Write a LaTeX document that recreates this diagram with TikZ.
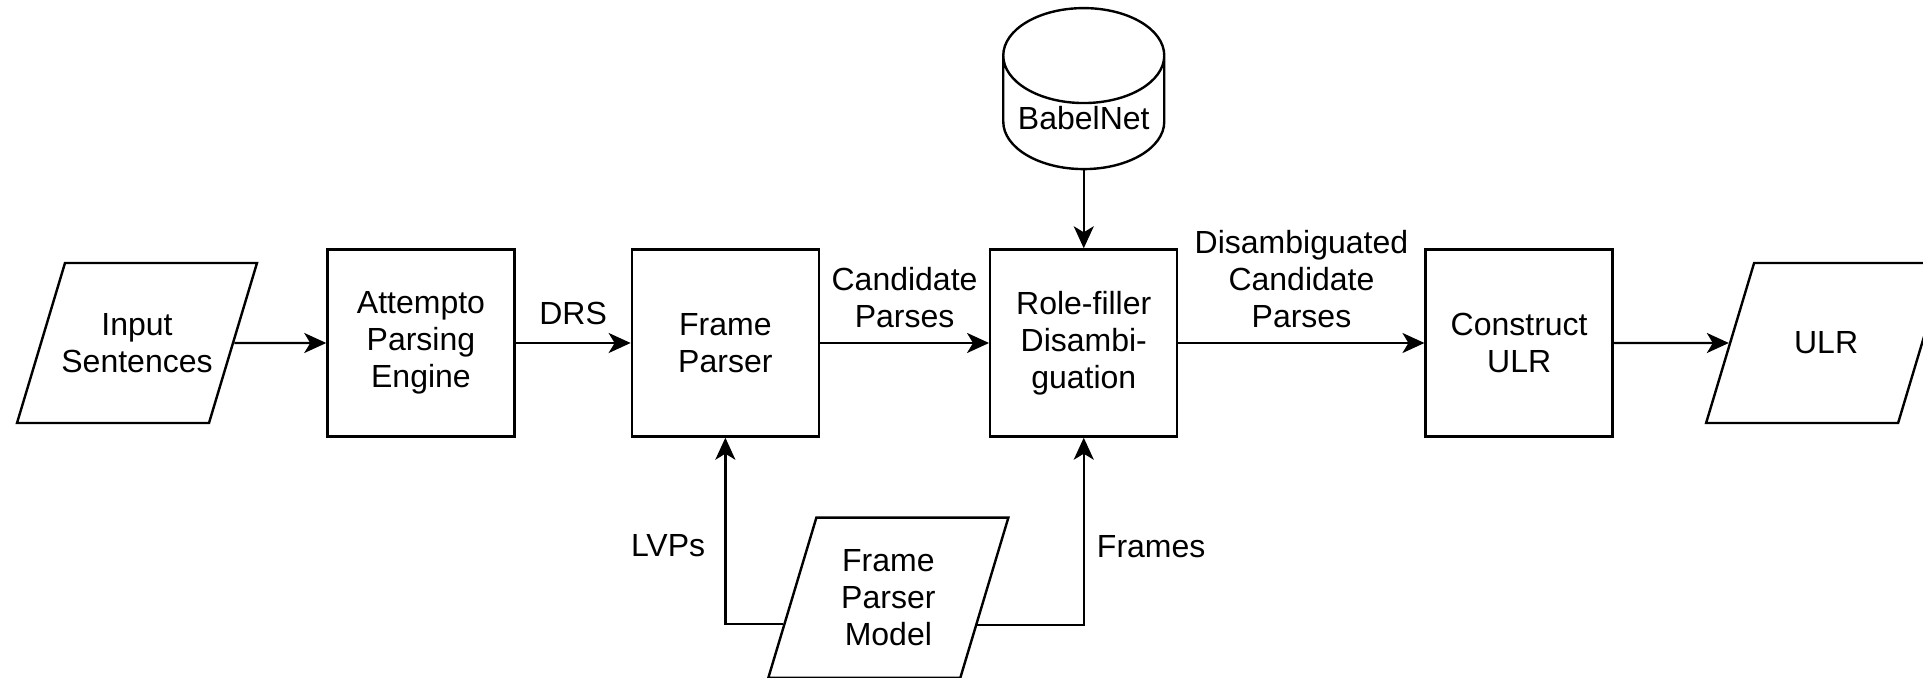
\documentclass[tikz,border=0pt]{standalone}
\usepackage{fontspec}
\setmainfont{Liberation Sans}
\usetikzlibrary{shapes.geometric,positioning,arrows.meta}

\newcommand{\pbox}[1]{\parbox[c][76pt][c]{80pt}{\centering #1}}

\begin{document}
\begin{tikzpicture}[
font=\fontsize{16}{18.5}\selectfont,
box/.style={
  draw,
  line width=1.2pt,
  align=center,
  minimum width=93.5pt,
  minimum height=93.5pt,
  inner sep=2pt
},
para/.style={
  draw,
  trapezium,
  line width=1.2pt,
  trapezium left angle=73.3,
  trapezium right angle=106.7,
  inner xsep=-4pt,
  inner ysep=2pt
},
db/.style={
  draw,
  cylinder,
  line width=1.2pt,
  shape border rotate=90,
  aspect=0.7,
  inner sep=1pt,
  minimum width=80.5pt,
  minimum height=80.5pt
},
arr/.style={
  line width=1.2pt,
  -{Stealth[length=11pt,width=10pt,inset=3pt]}
},
lbl/.style={
  align=center,
  inner sep=0pt
}
]
\useasboundingbox (0,0) rectangle (961.5pt,-339pt);

\node[para] at (68.5pt,-171.5pt)
  (in) {\pbox{Input\\Sentences}};
\node[box,right=46pt of in]
  (ape) {Attempto\\Parsing\\Engine};
\node[box,right=57.5pt of ape]
  (fp) {Frame\\Parser};
\node[box,right=84.5pt of fp]
  (rf) {Role-filler\\Disambi-\\guation};
\node[box,right=123pt of rf]
  (cu) {Construct\\ULR};
\node[para,right=57.5pt of cu]
  (ulr) {\pbox{ULR}};
\node[db,above=39pt of rf]
  (bn) {BabelNet};
\node[para] at ([shift={(81.5pt,-80pt)}]fp.south)
  (fpm) {\pbox{Frame\\Parser\\Model}};

\draw[arr] (in) -- (ape);
\draw[arr] (ape) -- node[lbl,above=8.5pt] {DRS} (fp);
\draw[arr] (fp) -- node[lbl,above=7pt] {Candidate\\Parses} (rf);
\draw[arr] (rf) -- node[lbl,above=7pt] {Disambiguated\\Candidate\\Parses} (cu);
\draw[arr] (cu) -- (ulr);
\draw[arr] (bn) -- (rf);
\draw[arr] (fpm.194) -| node[lbl,pos=0.71,left=9.5pt] {LVPs} (fp);
\draw[arr] (fpm.343) -| node[lbl,pos=0.71,right=6pt] {Frames} (rf);
\end{tikzpicture}
\end{document}
